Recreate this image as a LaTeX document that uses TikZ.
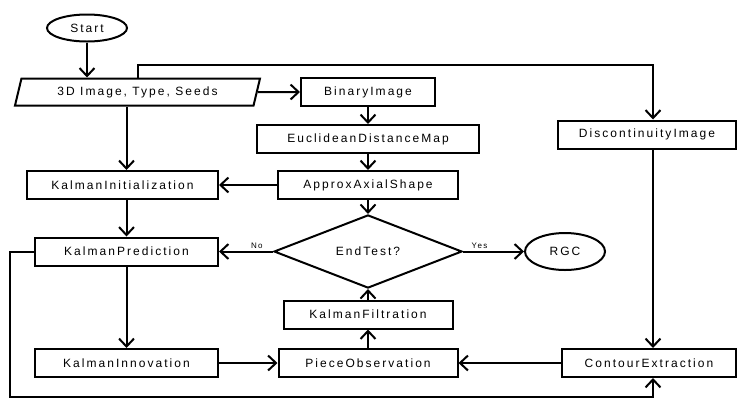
\documentclass[tikz,border=0pt]{standalone}
\usepackage{fontspec}
\setmainfont{Liberation Sans}[LetterSpace=17]
\usetikzlibrary{positioning,shapes.geometric,arrows.meta}

\begin{document}
\begin{tikzpicture}[x=1pt, y=-1pt, line width=2pt,
  >={Straight Barb[length=8pt,width=15pt]},
  every node/.style={font=\fontsize{12}{14}\selectfont},
  box/.style={draw, rectangle, minimum height=28pt, inner sep=0pt},
  term/.style={draw, ellipse, minimum width=80pt, inner sep=0pt},
  link/.style={->},
  lbl/.style={font=\fontsize{8}{9}\selectfont, inner sep=2pt}]

\path[use as bounding box] (0,0) rectangle (738,400);

\node[term, minimum height=27pt] (start) at (87,28) {Start};
\node[draw, trapezium, trapezium left angle=60, trapezium right angle=120,
  trapezium stretches body, minimum width=245pt, minimum height=27pt,
  inner sep=0pt] (input) at (137.5,92) {3D Image, Type, Seeds};
\node[box, minimum width=134pt] (binary) at (368,92) {BinaryImage};
\node[box, minimum width=222pt] (edm) at (368,139) {EuclideanDistanceMap};
\node[box, minimum width=180pt] (axial) at (368,185) {ApproxAxialShape};
\node[box, minimum width=191pt] (kinit) at (122.5,185) {KalmanInitialization};
\node[box, minimum width=183pt] (kpred) at (126.5,251.5) {KalmanPrediction};
\node[draw, diamond, minimum width=188pt, minimum height=53pt,
  inner sep=0pt] (endtest) at (368,251.5) {EndTest?};
\node[term, minimum height=37pt] (rgc) at (565,251.5) {RGC};
\node[box, minimum width=169pt] (kfilt) at (368,314.5) {KalmanFiltration};
\node[box, minimum width=179pt] (pobs) at (368,363) {PieceObservation};
\node[box, minimum width=183pt] (kinno) at (126.5,363) {KalmanInnovation};
\node[box, minimum width=178pt] (disc) at (647,134.5) {DiscontinuityImage};
\node[box, minimum width=174pt] (contour) at (649,363) {ContourExtraction};
\coordinate (rail) at (653,65);
\coordinate (floor) at (10,397);

\draw[link] (start.south) -- (start.south |- input.north);
\draw[link] (input.east) -- (binary.west);
\draw[link] (binary) -- (edm);
\draw[link] (edm) -- (axial);
\draw[link] (axial) -- (kinit);
\draw[link] (input.south -| kpred) -- (kinit.north -| kpred);
\draw[link] (kinit.south -| kpred) -- (kpred);
\draw[link] (axial) -- (endtest);
\draw[link] (endtest) -- node[lbl, pos=0.3, above] {No} (kpred);
\draw[link] (endtest) -- node[lbl, pos=0.27, above] {Yes} (rgc);
\draw[link] (kpred) -- (kinno);
\draw[link] (kinno) -- (pobs);
\draw[link] (pobs) -- (kfilt);
\draw[link] (kfilt) -- (endtest);
\draw[link] (contour) -- (pobs);
\draw[link] (input.north) |- (rail) -- (rail |- disc.north);
\draw[link] (rail |- disc.south) -- (rail |- contour.north);
\draw[link] (kpred.west) -| (floor) -| (rail |- contour.south);

\end{tikzpicture}
\end{document}
